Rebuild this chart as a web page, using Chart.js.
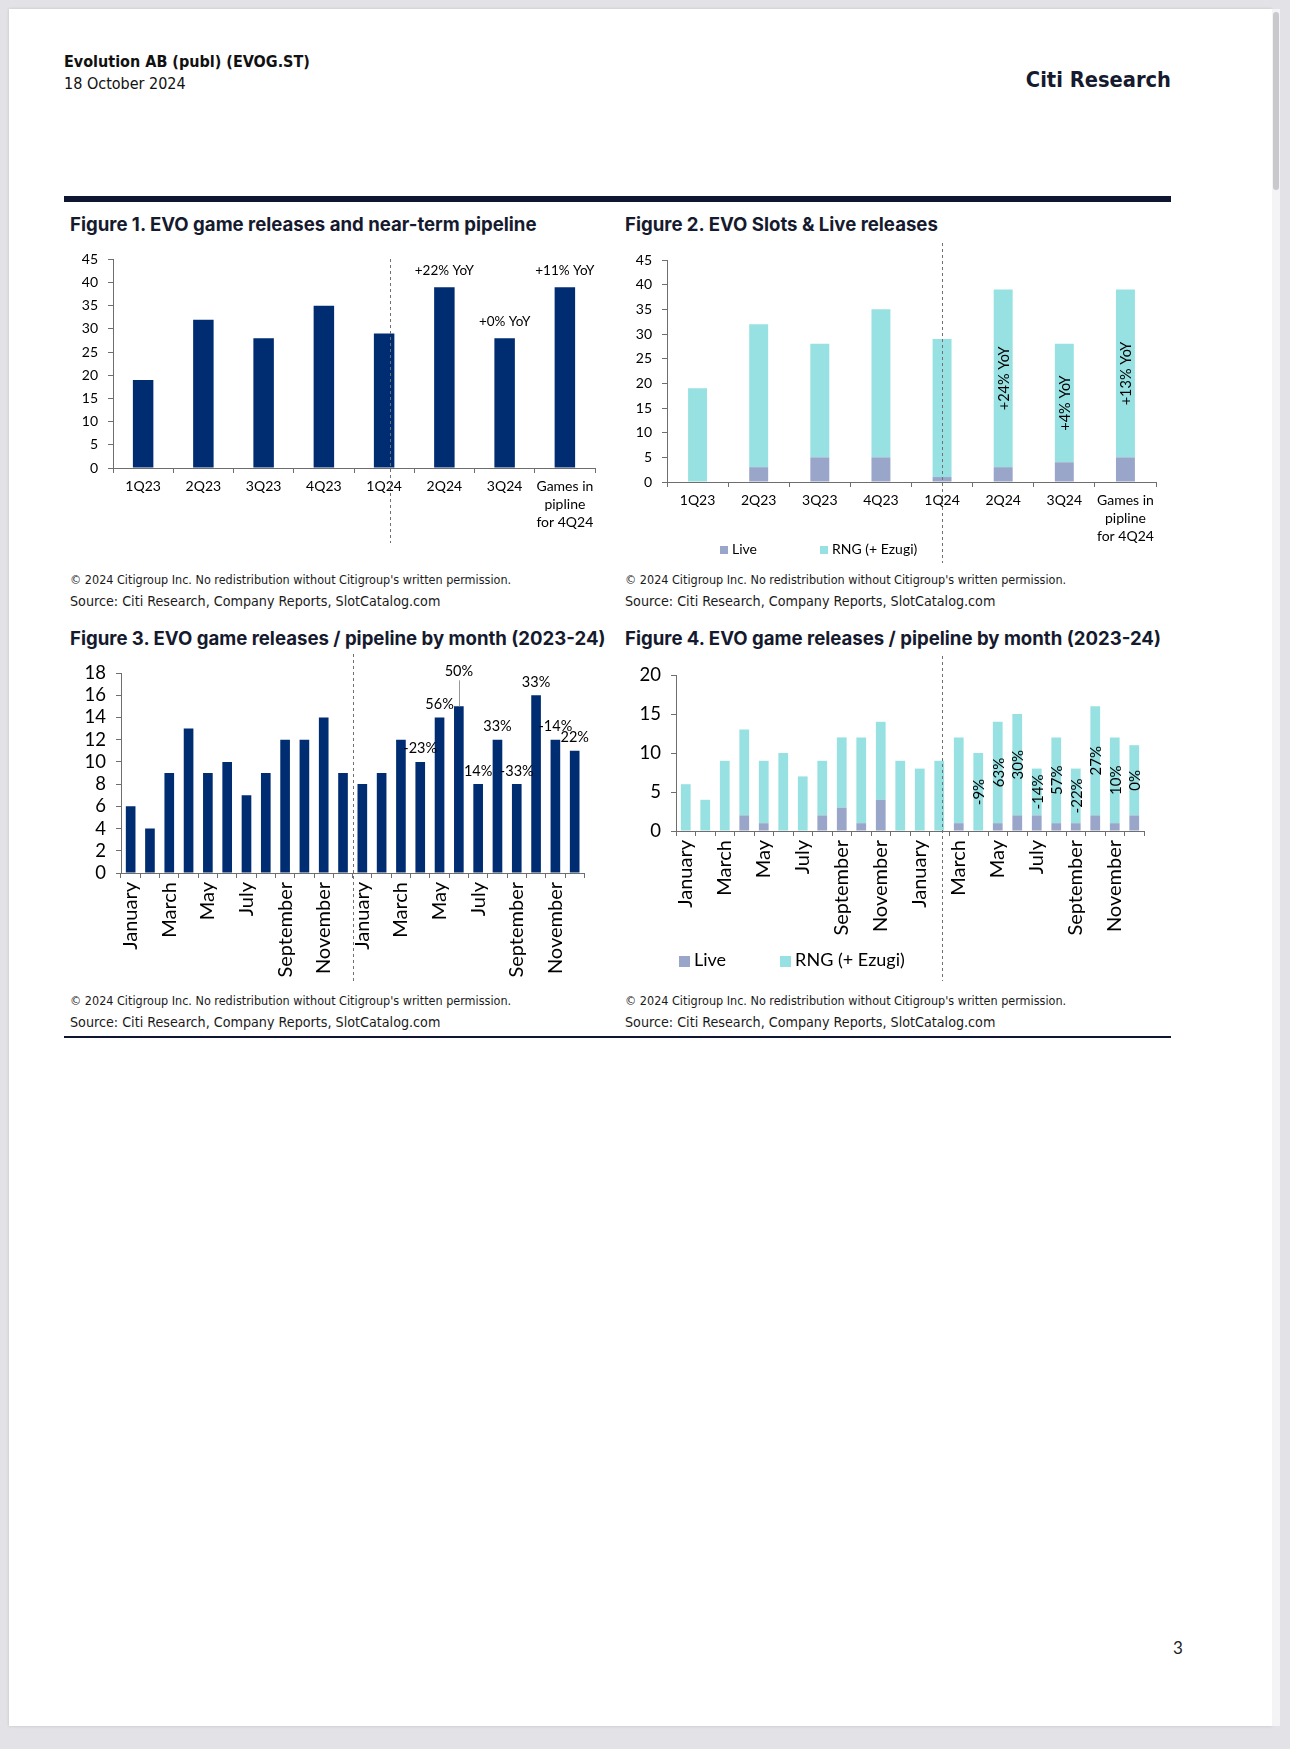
<!DOCTYPE html>
<html>
<head>
<meta charset="utf-8">
<script src="https://cdn.jsdelivr.net/npm/chart.js@4.4.1/dist/chart.umd.min.js"></script>
<style>
  body { margin: 0; width: 1290px; height: 1749px; background: #e2e2e7; position: relative; overflow: hidden; font-family: Lato, sans-serif; }
  #page { position: absolute; left: 9px; top: 9px; width: 1263px; height: 1717px; background: #fff; box-shadow: 0 0 3px rgba(0,0,0,0.15); }
  #scroll { position: absolute; left: 1272px; top: 9px; width: 8px; height: 1717px; background: #f4f4f6; }
  #thumb { position: absolute; left: 1273px; top: 12px; width: 6px; height: 178px; background: #c9c9cd; border-radius: 3px; }
  .t { position: absolute; white-space: nowrap; color: #111; }
  .hdr { font-family: "Liberation Sans Narrow", "DejaVu Sans Condensed", sans-serif; font-size: 16px; }
  .fig { font-family: Inter, "Noto Sans", sans-serif; font-weight: 700; font-size: 18.6px; color: #151a2e; }
  .copy { font-family: "Liberation Sans Narrow", "DejaVu Sans Condensed", sans-serif; font-size: 12.5px; color: #1a1a1a; }
  .src { font-family: "Liberation Sans Narrow", "DejaVu Sans Condensed", sans-serif; font-size: 14.2px; color: #1a1a1a; }
  .rule { position: absolute; background: #0f1632; }
  canvas { position: absolute; }
  .leg { position: absolute; font-family: Lato, sans-serif; color: #000; white-space: nowrap; }
  .leg i { display: inline-block; vertical-align: middle; margin-right: 4px; }
</style>
</head>
<body>
<div id="page"></div>
<div id="scroll"></div>
<div id="thumb"></div>

<div class="t hdr" style="left:64px;top:52px;font-weight:700">Evolution AB (publ) (EVOG.ST)</div>
<div class="t hdr" style="left:64px;top:74px">18 October 2024</div>
<div class="t" style="right:119px;top:67px;font-family:'Liberation Sans Narrow','DejaVu Sans Condensed',sans-serif;font-weight:700;font-size:21.7px;color:#151a2e">Citi Research</div>

<div class="rule" style="left:64px;top:196px;width:1107px;height:6px"></div>

<div class="t fig" style="left:70px;top:213px">Figure 1. EVO game releases and near-term pipeline</div>
<div class="t fig" style="left:625px;top:213px">Figure 2. EVO Slots &amp; Live releases</div>
<div class="t fig" style="left:70px;top:627px">Figure 3. EVO game releases / pipeline by month (2023-24)</div>
<div class="t fig" style="left:625px;top:627px">Figure 4. EVO game releases / pipeline by month (2023-24)</div>

<canvas id="c1" width="545" height="314" style="left:60px;top:241px"></canvas>
<canvas id="c2" width="560" height="325" style="left:615px;top:240px"></canvas>
<canvas id="c3" width="545" height="335" style="left:60px;top:650px"></canvas>
<canvas id="c4" width="560" height="335" style="left:615px;top:650px"></canvas>

<div id="leg2" class="leg" style="left:720px;top:540px;font-size:14px"></div>
<div id="leg4" class="leg" style="left:679px;top:948px;font-size:18px"></div>

<div class="t copy" style="left:70px;top:572px">© 2024 Citigroup Inc. No redistribution without Citigroup's written permission.</div>
<div class="t src" style="left:70px;top:593px">Source: Citi Research, Company Reports, SlotCatalog.com</div>
<div class="t copy" style="left:625px;top:572px">© 2024 Citigroup Inc. No redistribution without Citigroup's written permission.</div>
<div class="t src" style="left:625px;top:593px">Source: Citi Research, Company Reports, SlotCatalog.com</div>
<div class="t copy" style="left:70px;top:993px">© 2024 Citigroup Inc. No redistribution without Citigroup's written permission.</div>
<div class="t src" style="left:70px;top:1014px">Source: Citi Research, Company Reports, SlotCatalog.com</div>
<div class="t copy" style="left:625px;top:993px">© 2024 Citigroup Inc. No redistribution without Citigroup's written permission.</div>
<div class="t src" style="left:625px;top:1014px">Source: Citi Research, Company Reports, SlotCatalog.com</div>

<div class="rule" style="left:64px;top:1036px;width:1107px;height:2px"></div>

<div class="t" style="left:1173px;top:1637px;font-family:Lato,sans-serif;font-size:17px;color:#222">3</div>

<script>
// quarterly data (fig 1 & 2)
const quarterLabels = ['1Q23', '2Q23', '3Q23', '4Q23', '1Q24', '2Q24', '3Q24', ['Games in', 'pipline', 'for 4Q24']];
const quarterTotal = [19, 32, 28, 35, 29, 39, 28, 39];
const quarterLive = [0, 3, 5, 5, 1, 3, 4, 5];
const quarterRng = [19, 29, 23, 30, 28, 36, 24, 34];
const fig1Notes = [null, null, null, null, null, '+22% YoY', '+0% YoY', '+11% YoY'];
const fig2Notes = [null, null, null, null, null, '+24% YoY', '+4% YoY', '+13% YoY'];

// monthly data (fig 3 & 4)
const monthLabels = ['January', 'February', 'March', 'April', 'May', 'June', 'July', 'August', 'September', 'October', 'November', 'December',
  'January', 'February', 'March', 'April', 'May', 'June', 'July', 'August', 'September', 'October', 'November', 'December'];
const monthTotal = [6, 4, 9, 13, 9, 10, 7, 9, 12, 12, 14, 9, 8, 9, 12, 10, 14, 15, 8, 12, 8, 16, 12, 11];
const monthLive = [0, 0, 0, 2, 1, 0, 0, 2, 3, 1, 4, 0, 0, 0, 1, 0, 1, 2, 2, 1, 1, 2, 1, 2];
const monthRng = [6, 4, 9, 11, 8, 10, 7, 7, 9, 11, 10, 9, 8, 9, 11, 10, 13, 13, 6, 11, 7, 14, 11, 9];
const fig3Notes = [null, null, null, null, null, null, null, null, null, null, null, null,
  null, null, null, '-23%', '56%', '50%', '14%', '33%', '-33%', '33%', '-14%', '22%'];
const fig4Notes = [null, null, null, null, null, null, null, null, null, null, null, null,
  null, null, null, '-9%', '63%', '30%', '-14%', '57%', '-22%', '27%', '10%', '0%'];

const NAVY = '#002d72';
const LIVE = '#9aa6c9';
const RNG = '#97e1e2';
const AXIS = '#6e6e6e';

// draws the dashed divider plus the text notes, using the chart's own scales
const notesPlugin = {
  id: 'notes',
  afterDatasetsDraw(chart, args, o) {
    const ctx = chart.ctx, xs = chart.scales.x, ys = chart.scales.y;
    ctx.save();
    if (o.divider != null) {
      const px = Math.round(xs.getPixelForValue(o.divider)) + 0.5;
      ctx.strokeStyle = '#707070';
      ctx.lineWidth = 1;
      ctx.setLineDash([3, 3]);
      ctx.beginPath();
      ctx.moveTo(px, o.dividerTop);
      ctx.lineTo(px, o.dividerBottom);
      ctx.stroke();
      ctx.setLineDash([]);
    }
    ctx.fillStyle = '#000';
    ctx.font = o.size + 'px Lato, sans-serif';
    (o.texts || []).forEach((txt, i) => {
      if (!txt) return;
      const cx = xs.getPixelForValue(i);
      if (o.mode === 'above') {
        const top = ys.getPixelForValue(o.top[i]);
        const lift = (o.lift && o.lift[i]) || o.gap;
        ctx.textAlign = 'center';
        ctx.textBaseline = 'bottom';
        ctx.fillText(txt, cx, top - lift);
        if (o.lift && o.lift[i]) {
          ctx.strokeStyle = '#999';
          ctx.beginPath();
          ctx.moveTo(Math.round(cx) + 0.5, top - lift + 2);
          ctx.lineTo(Math.round(cx) + 0.5, top);
          ctx.stroke();
        }
      } else {
        const mid = ys.getPixelForValue(o.base[i] + o.seg[i] / 2);
        ctx.translate(cx, mid);
        ctx.rotate(-Math.PI / 2);
        ctx.textAlign = 'center';
        ctx.textBaseline = 'middle';
        ctx.fillText(txt, 0, 1);
        ctx.setTransform(1, 0, 0, 1, 0, 0);
      }
    });
    ctx.restore();
  }
};

function yAxis(max, step, size, width, stacked) {
  return {
    min: 0, max: max, stacked: stacked,
    ticks: { stepSize: step, autoSkip: false, color: '#000', font: { family: 'Lato', size: size }, padding: 10 },
    grid: { drawOnChartArea: false, drawTicks: true, tickLength: 5, color: AXIS },
    border: { color: AXIS },
    afterFit(s) { s.width = width; }
  };
}

function xAxis(size, height, rotated, stacked) {
  return {
    stacked: stacked,
    ticks: {
      color: '#000', font: { family: 'Lato', size: size, lineHeight: 1.3 }, autoSkip: false, padding: 4,
      maxRotation: rotated ? 90 : 0, minRotation: rotated ? 90 : 0,
      callback(v, i) { return rotated && i % 2 ? '' : this.getLabelForValue(v); }
    },
    grid: { drawOnChartArea: false, drawTicks: true, tickLength: 5, color: AXIS, offset: true },
    border: { color: AXIS },
    afterFit(s) { s.height = height; }
  };
}

function baseOptions(pad, scales, notes) {
  return {
    responsive: false, animation: false, devicePixelRatio: 1,
    layout: { padding: pad },
    scales: scales,
    plugins: { legend: { display: false }, tooltip: { enabled: false }, notes: notes }
  };
}

// Figure 1
new Chart(document.getElementById('c1'), {
  type: 'bar',
  data: { labels: quarterLabels, datasets: [{ data: quarterTotal, backgroundColor: NAVY, categoryPercentage: 1, barPercentage: 0.34 }] },
  options: baseOptions({ top: 17, right: 10, bottom: 0, left: 0 },
    { x: xAxis(14, 87, false, false), y: yAxis(45, 5, 14, 53, false) },
    { mode: 'above', texts: fig1Notes, top: quarterTotal, gap: 10, size: 13.5, divider: 4.09, dividerTop: 18, dividerBottom: 302 }),
  plugins: [notesPlugin]
});

// Figure 2
new Chart(document.getElementById('c2'), {
  type: 'bar',
  data: {
    labels: quarterLabels,
    datasets: [
      { label: 'Live', data: quarterLive, backgroundColor: LIVE, categoryPercentage: 1, barPercentage: 0.31 },
      { label: 'RNG (+ Ezugi)', data: quarterRng, backgroundColor: RNG, categoryPercentage: 1, barPercentage: 0.31 }
    ]
  },
  options: baseOptions({ top: 20, right: 19, bottom: 0, left: 0 },
    { x: xAxis(14, 83, false, true), y: yAxis(45, 5, 14, 52, true) },
    { mode: 'rotate', texts: fig2Notes, base: quarterLive, seg: quarterRng, size: 14.5, divider: 4, dividerTop: 3, dividerBottom: 323 }),
  plugins: [notesPlugin]
});

// Figure 3
new Chart(document.getElementById('c3'), {
  type: 'bar',
  data: { labels: monthLabels, datasets: [{ data: monthTotal, backgroundColor: NAVY, categoryPercentage: 1, barPercentage: 0.5 }] },
  options: baseOptions({ top: 23, right: 15, bottom: 0, left: 0 },
    { x: xAxis(20, 112, true, false), y: yAxis(18, 2, 18.5, 61, false) },
    { mode: 'above', texts: fig3Notes, top: monthTotal, gap: 6, lift: { 17: 28 }, size: 14.5, divider: 11.5, dividerTop: 4, dividerBottom: 331 }),
  plugins: [notesPlugin]
});

// Figure 4
new Chart(document.getElementById('c4'), {
  type: 'bar',
  data: {
    labels: monthLabels,
    datasets: [
      { label: 'Live', data: monthLive, backgroundColor: LIVE, categoryPercentage: 1, barPercentage: 0.5 },
      { label: 'RNG (+ Ezugi)', data: monthRng, backgroundColor: RNG, categoryPercentage: 1, barPercentage: 0.5 }
    ]
  },
  options: baseOptions({ top: 25, right: 31, bottom: 0, left: 0 },
    { x: xAxis(20, 154, true, true), y: yAxis(20, 5, 18.5, 61, true) },
    { mode: 'rotate', texts: fig4Notes, base: monthLive, seg: monthRng, size: 15, divider: 13.13, dividerTop: 6, dividerBottom: 331 }),
  plugins: [notesPlugin]
});

// legends
function legend(id, chartId, box, gap) {
  const ch = Chart.getChart(chartId);
  const el = document.getElementById(id);
  el.innerHTML = ch.data.datasets.map((d, i) =>
    `<span style="margin-right:${i ? 0 : gap}px"><i style="width:${box}px;height:${box}px;background:${d.backgroundColor}"></i>${d.label}</span>`
  ).join('');
}
legend('leg2', 'c2', 8, 63);
legend('leg4', 'c4', 11, 54);
</script>
</body>
</html>
